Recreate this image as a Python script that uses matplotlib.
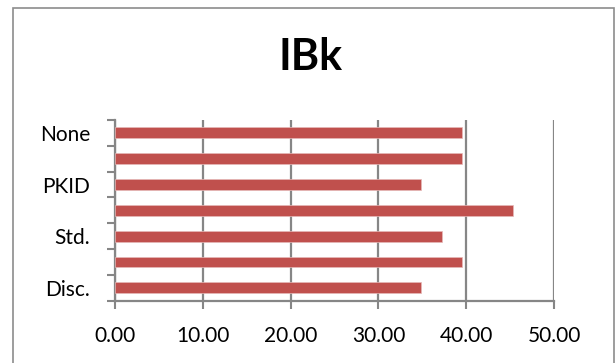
import numpy as np
import matplotlib.pyplot as plt
from matplotlib.patches import Rectangle

plt.rcParams['font.family'] = ['Lato', 'DejaVu Sans']

# bars from bottom to top
labels = ['Disc.', '', 'Std.', '', 'PKID', '', 'None']
values = [34.9, 39.55, 37.25, 45.35, 34.9, 39.55, 39.55]
xticks = [0, 10, 20, 30, 40, 50]

fig = plt.figure(figsize=(6.16, 3.63), dpi=100)
ax = fig.add_axes([115/616, 1-300.7/363, (554-115)/616, (300.7-120)/363])

y = np.arange(len(values))
ax.barh(y, values, height=0.42, color='#C0504D', edgecolor='#E6B9B8', linewidth=0.5, zorder=3)

ax.set_xlim(0, 50)
ax.set_ylim(-0.5, len(values) - 0.5)
ax.set_xticks(xticks)
ax.set_xticklabels(['%.2f' % v for v in xticks], fontsize=15)
ax.set_yticks(y)
ax.set_yticklabels(labels, fontsize=15)
ax.set_yticks(np.arange(-0.5, len(values)), minor=True)

ax.tick_params(axis='y', which='major', length=0, pad=18)
ax.tick_params(axis='y', which='minor', length=6, width=1.5, color='#868686', direction='out')
ax.tick_params(axis='x', length=6, width=1.5, color='#868686', direction='out', pad=12)

ax.grid(axis='x', color='#868686', linewidth=1.6, zorder=0)
for s in ['top', 'right']:
    ax.spines[s].set_visible(False)
for s in ['left', 'bottom']:
    ax.spines[s].set_color('#868686')
    ax.spines[s].set_linewidth(1.6)

fig.text(310/616, 1-57/363, 'IBk', ha='center', va='center', fontsize=31, fontweight='bold')

fig.patches.append(Rectangle((13/616, -0.05), (614-13)/616, 1.05-8/363, transform=fig.transFigure,
                             fill=False, edgecolor='#8C8C8C', linewidth=1.2))

fig.savefig('out.png', dpi=100)
